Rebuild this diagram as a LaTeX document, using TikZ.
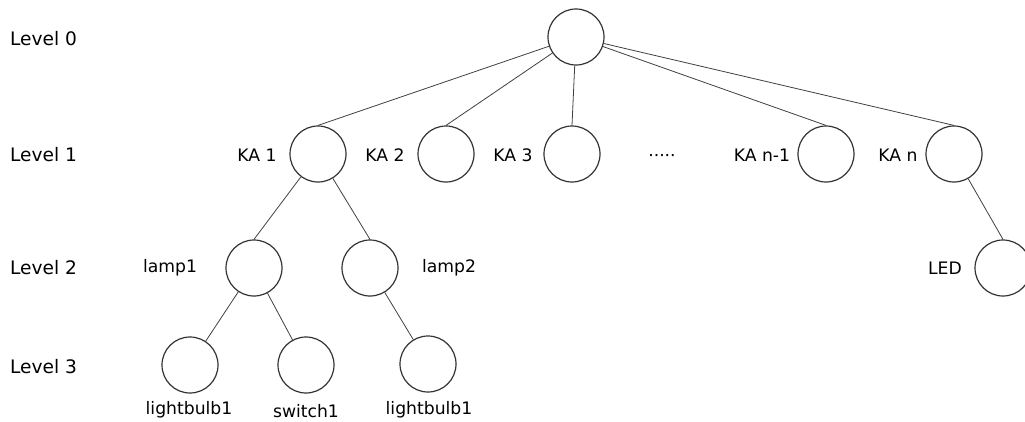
\documentclass[tikz,border=0pt]{standalone}
\usepackage{fontspec}
\setmainfont{DejaVu Sans}
\begin{document}
\begin{tikzpicture}[x=1pt,y=-1pt,
  vertex/.style={circle,draw=black!80,line width=1.2pt,minimum size=56pt,inner sep=0pt},
  edge/.style={draw=black!75,line width=0.8pt},
  lbl/.style={inner sep=0pt,font=\fontsize{17.2}{21}\selectfont},
  lvl/.style={inner sep=0pt,anchor=west,font=\fontsize{18.6}{22}\selectfont}]
\useasboundingbox (0,0) rectangle (1025,421);
\clip (0,0) rectangle (1025,421);

% level captions
\node[lvl] (l0) at (10,39) {Level 0};
\node[lvl] (l1) at (10,155) {Level 1};
\node[lvl] (l2) at (10,268) {Level 2};
\node[lvl] (l3) at (10,367) {Level 3};

% vertices
\node[vertex] (root) at (576,37) {};
\node[vertex] (ka1) at (318,154) {};
\node[vertex] (ka2) at (446,154) {};
\node[vertex] (ka3) at (572,154) {};
\node[vertex] (kan1) at (826,154) {};
\node[vertex] (kan) at (954,154) {};
\node[vertex] (lamp1) at (254,268) {};
\node[vertex] (lamp2) at (370,268) {};
\node[vertex] (led) at (1003,268) {};
\node[vertex] (bulb1) at (190,365) {};
\node[vertex] (sw1) at (306,365) {};
\node[vertex] (bulb2) at (428,364) {};

% vertex names
\node[lbl] (tka1) at (257,155) {KA 1};
\node[lbl] (tka2) at (385,155) {KA 2};
\node[lbl] (tka3) at (513,155) {KA 3};
\node[lbl] (tdots) at (662,158) {·····};
\node[lbl] (tkan1) at (762,155) {KA n-1};
\node[lbl] (tkan) at (898,155) {KA n};
\node[lbl] (tlamp1) at (170,268) {lamp1};
\node[lbl] (tlamp2) at (449,268) {lamp2};
\node[lbl] (tled) at (945,268) {LED};
\node[lbl] (tbulb1) at (189,410) {lightbulb1};
\node[lbl] (tsw1) at (306,411) {switch1};
\node[lbl] (tbulb2) at (429,410) {lightbulb1};

% connectors
\foreach \c in {ka1,ka2,ka3,kan1,kan}
  \path[edge] (root) -- (\c.north);
\path[edge] (ka1) -- (lamp1.north);
\path[edge] (ka1) -- (lamp2.north);
\path[edge] (kan) -- (led.north);
\path[edge] (lamp1) -- (bulb1);
\path[edge] (lamp1) -- (sw1);
\path[edge] (lamp2) -- (bulb2);
\end{tikzpicture}
\end{document}
